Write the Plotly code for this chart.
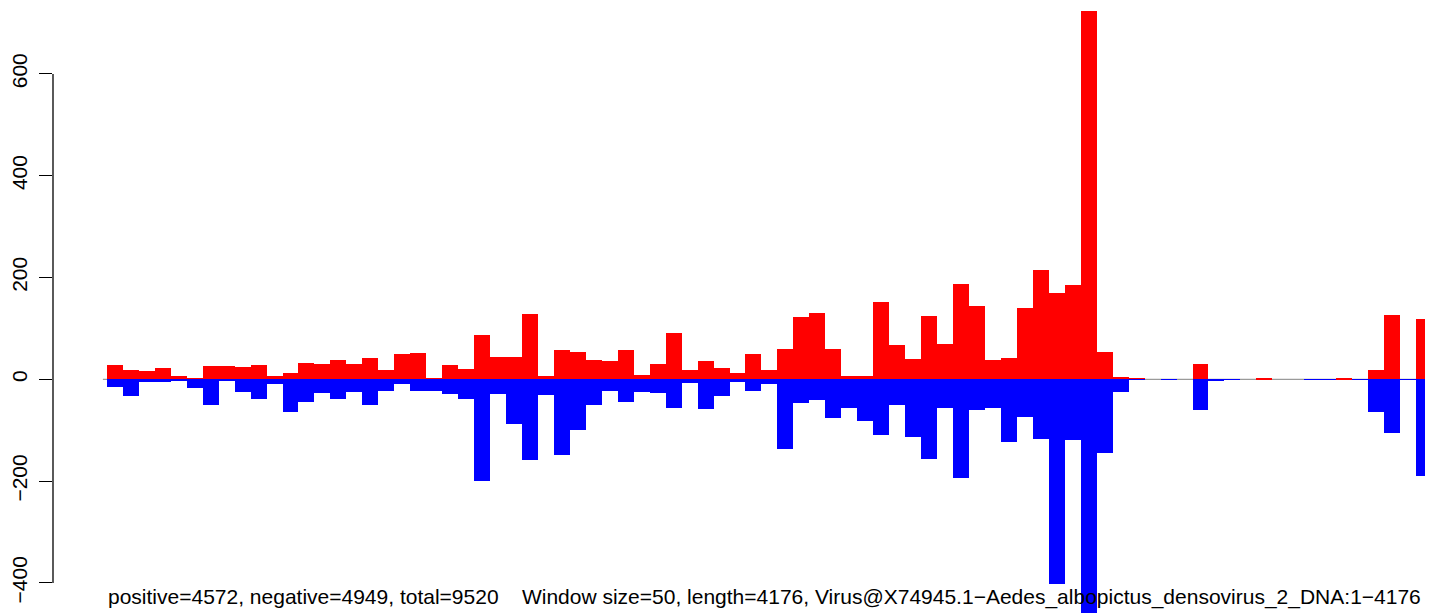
import plotly.graph_objects as go

# Window index (window size = 50, length = 4176)
windows = list(range(83))

positive = [29, 19, 17, 23, 7, 3, 27, 27, 25, 29,
            7, 13, 33, 31, 37, 31, 41, 19, 50, 52,
            3, 29, 21, 88, 44, 43, 129, 7, 58, 54,
            37, 35, 58, 9, 31, 90, 19, 35, 23, 13,
            50, 19, 60, 123, 131, 60, 7, 7, 151, 68,
            39, 125, 70, 188, 145, 37, 41, 141, 214, 170,
            186, 724, 54, 5, 3, 0, 0, 0, 31, 0,
            0, 0, 1, 0, 0, 0, 0, 1, 0, 19,
            127, 0, 119]

negative = [-16, -32, -5, -5, -3, -18, -50, -3, -24, -38,
            -10, -65, -44, -26, -38, -24, -50, -22, -10, -22,
            -22, -28, -39, -199, -28, -87, -158, -30, -148, -99,
            -50, -22, -44, -24, -26, -56, -8, -58, -32, -5,
            -22, -10, -136, -46, -40, -77, -56, -81, -109, -50,
            -113, -156, -56, -193, -60, -56, -124, -75, -117, -403,
            -119, -480, -144, -24, -1, 0, -1, 0, -60, -3,
            -1, 0, 0, 0, 0, -1, -1, 0, -1, -65,
            -105, -1, -189]

y_ticks = [-400, -200, 0, 200, 400, 600]
caption = ("positive=4572, negative=4949, total=9520    Window size=50, length=4176, "
           "Virus@X74945.1\u2212Aedes_albopictus_densovirus_2_DNA:1\u22124176")

FONT = "Liberation Sans, Arial, Helvetica, sans-serif"

# The page body adds an 8px offset; the figure is sized so the plot lands in place.
OFF = 8
W, H = 1433 - OFF, 613 - OFF
PLOT_LEFT = 50           # page px of the y axis
ZERO_Y = 379.3           # page px of value 0
PX_PER_UNIT = 0.509
BAR_PX = 16

fig = go.Figure()
fig.add_trace(go.Bar(x=windows, y=positive, width=1, marker=dict(color="#FF0000", line=dict(width=0)),
                     showlegend=False, hoverinfo="skip"))
fig.add_trace(go.Bar(x=windows, y=negative, width=1, marker=dict(color="#0000FF", line=dict(width=0)),
                     showlegend=False, hoverinfo="skip"))

# grey zero reference line (below bars)
fig.add_shape(type="line", xref="x", yref="y", x0=-0.75, x1=83, y0=0, y1=0,
              line=dict(color="#9a9a9a", width=1.3), layer="below")
# R-style axis line spanning only the tick range
fig.add_shape(type="line", xref="paper", yref="y", x0=0, x1=0, y0=min(y_ticks), y1=max(y_ticks),
              line=dict(color="black", width=1.3), layer="above")

plot_w = 1433 - PLOT_LEFT
fig.add_annotation(text=caption, xref="paper", yref="paper",
                   x=(763 - PLOT_LEFT) / plot_w, y=(613 - 597) / H,
                   xanchor="center", yanchor="middle", showarrow=False,
                   font=dict(family=FONT, size=21, color="black"))

x_left = -0.5 - (104 - PLOT_LEFT) / BAR_PX
fig.update_layout(
    width=W, height=H,
    margin=dict(l=PLOT_LEFT - OFF, r=0, t=0, b=0, pad=0),
    paper_bgcolor="white", plot_bgcolor="white",
    barmode="relative", bargap=0,
    font=dict(family=FONT, size=21, color="black"),
    xaxis=dict(visible=False, range=[x_left, x_left + plot_w / BAR_PX]),
    yaxis=dict(range=[-(613 - ZERO_Y) / PX_PER_UNIT, (ZERO_Y - OFF) / PX_PER_UNIT],
               tickvals=y_ticks, ticks="outside", ticklen=13, tickwidth=1.3, tickcolor="black",
               tickangle=-90, showgrid=False, zeroline=False, showline=False,
               ticklabelstandoff=4,
               tickfont=dict(family=FONT, size=21, color="black")),
)

fig.write_html("out.html")
